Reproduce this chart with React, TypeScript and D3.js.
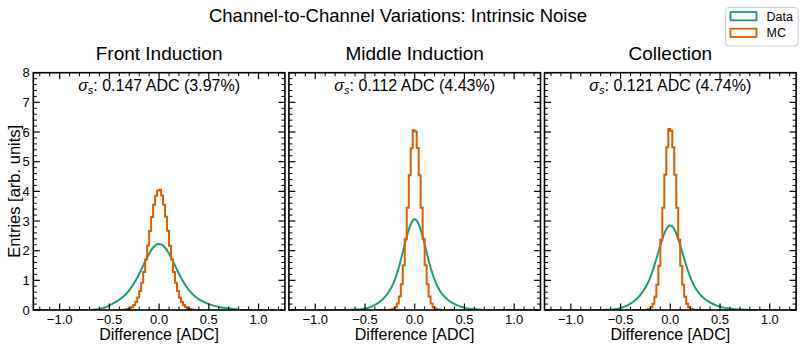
import React from "react";
import * as d3 from "d3";

// ---------- data ----------
const panelTitles = ["Front Induction", "Middle Induction", "Collection"];
const sigmaValues = ["0.147", "0.112", "0.121"];
const sigmaPercents = ["3.97", "4.43", "4.74"];
const seriesNames = ["Data", "MC"];
const binWidth = 0.02;
const dataStart = -0.7;
const mcStart = -0.4;

const frontData = [
  0.005, 0.008, 0.013, 0.02, 0.03, 0.043, 0.06, 0.08, 0.105, 0.135,
  0.17, 0.205, 0.245, 0.285, 0.325, 0.37, 0.42, 0.48, 0.548, 0.627,
  0.715, 0.81, 0.915, 1.031, 1.157, 1.29, 1.429, 1.569, 1.707, 1.838,
  1.958, 2.06, 2.141, 2.198, 2.226,
  2.22, 2.198, 2.141, 2.06, 1.958, 1.838, 1.707, 1.569, 1.429, 1.29,
  1.157, 1.031, 0.915, 0.81, 0.715, 0.631, 0.557, 0.492, 0.436, 0.386,
  0.343, 0.305, 0.271, 0.241, 0.214, 0.19, 0.168, 0.148, 0.13, 0.114,
  0.099, 0.087, 0.075, 0.065, 0.056, 0.048, 0.041, 0.035, 0.029, 0.025,
];
const frontMC = [
  0.001, 0.003, 0.008, 0.016, 0.03, 0.055, 0.098, 0.166, 0.271, 0.425,
  0.639, 0.922, 1.279, 1.701, 2.174, 2.666, 3.139, 3.547, 3.849, 4.03,
  4.05, 3.86, 3.55, 3.14, 2.67, 2.17, 1.7, 1.28, 0.92, 0.64,
  0.425, 0.27, 0.166, 0.098, 0.055, 0.03, 0.016, 0.008, 0.003, 0.001,
];
const middleData = [
  0.001, 0.002, 0.003, 0.005, 0.007, 0.011, 0.016, 0.022, 0.031, 0.042,
  0.056, 0.074, 0.096, 0.122, 0.153, 0.19, 0.232, 0.28, 0.335, 0.4,
  0.485, 0.568, 0.668, 0.79, 0.937, 1.112, 1.318, 1.553, 1.811, 2.082,
  2.351, 2.6, 2.809, 2.96, 3.06,
  3.05, 2.96, 2.809, 2.6, 2.351, 2.082, 1.811, 1.553, 1.318, 1.112,
  0.937, 0.79, 0.668, 0.568, 0.485, 0.415, 0.355, 0.304, 0.259, 0.22,
  0.185, 0.156, 0.13, 0.107, 0.088, 0.072, 0.058, 0.046, 0.037, 0.029,
  0.023, 0.017, 0.013, 0.01, 0.008, 0.006, 0.004, 0.003, 0.002, 0.002,
];
const middleMC = [
  0, 0, 0, 0, 0, 0.001, 0.002, 0.005, 0.014, 0.038,
  0.096, 0.219, 0.457, 0.869, 1.509, 2.387, 3.447, 4.541, 5.456, 6.06,
  6.02, 5.46, 4.54, 3.45, 2.39, 1.51, 0.87, 0.457, 0.219, 0.096,
  0.038, 0.014, 0.005, 0.002, 0.001, 0, 0, 0, 0, 0,
];
const collectionData = [
  0.002, 0.003, 0.005, 0.008, 0.012, 0.017, 0.024, 0.033, 0.044, 0.059,
  0.077, 0.099, 0.126, 0.158, 0.195, 0.237, 0.285, 0.34, 0.4, 0.47,
  0.559, 0.649, 0.755, 0.882, 1.031, 1.204, 1.398, 1.613, 1.84, 2.071,
  2.294, 2.496, 2.662, 2.78, 2.85,
  2.84, 2.78, 2.662, 2.496, 2.294, 2.071, 1.84, 1.613, 1.398, 1.204,
  1.031, 0.882, 0.755, 0.649, 0.559, 0.483, 0.419, 0.363, 0.315, 0.273,
  0.236, 0.203, 0.173, 0.147, 0.124, 0.105, 0.087, 0.072, 0.06, 0.049,
  0.04, 0.032, 0.026, 0.02, 0.016, 0.013, 0.01, 0.008, 0.006, 0.004,
];
const collectionMC = [
  0, 0, 0, 0, 0, 0.001, 0.001, 0.004, 0.013, 0.036,
  0.091, 0.21, 0.443, 0.851, 1.49, 2.37, 3.45, 4.56, 5.49, 6.1,
  6.04, 5.49, 4.56, 3.45, 2.37, 1.49, 0.851, 0.443, 0.21, 0.091,
  0.036, 0.013, 0.004, 0.001, 0.001, 0, 0, 0, 0, 0,
];
const dataSeries = [frontData, middleData, collectionData];
const mcSeries = [frontMC, middleMC, collectionMC];

// ---------- layout ----------
const W = 805;
const H = 349;
const PANEL_LEFT = 33.3;
const PANEL_W = 251.6;
const PANEL_GAP = 4;
const TOP = 72.7;
const BOTTOM = 310;
const X_DOMAIN: [number, number] = [-1.265, 1.265];
const Y_DOMAIN: [number, number] = [0, 8];
const COLORS = ["#1b9e77", "#d95f02"];
const FONT = "'Liberation Sans', Arial, Helvetica, sans-serif";
const MAJOR = 6.5;
const MINOR = 3.5;

function stepPoints(values: number[], start: number): [number, number][] {
  const pts: [number, number][] = [[start, 0]];
  values.forEach((v, i) => {
    pts.push([start + i * binWidth, v]);
    pts.push([start + (i + 1) * binWidth, v]);
  });
  pts.push([start + values.length * binWidth, 0]);
  return pts;
}

function centerPoints(values: number[], start: number): [number, number][] {
  const pts: [number, number][] = [[-1.3, 0], [start, 0]];
  values.forEach((v, i) => {
    pts.push([start + (i + 0.5) * binWidth, v]);
  });
  pts.push([start + values.length * binWidth, 0]);
  pts.push([1.3, 0]);
  return pts;
}

function Panel({ index }: { index: number }) {
  const x0 = PANEL_LEFT + index * (PANEL_W + PANEL_GAP);
  const x1 = x0 + PANEL_W;
  const xs = d3.scaleLinear().domain(X_DOMAIN).range([x0, x1]);
  const ys = d3.scaleLinear().domain(Y_DOMAIN).range([BOTTOM, TOP]);
  const line = d3
    .line<[number, number]>()
    .x((d) => xs(d[0]))
    .y((d) => ys(d[1]));
  const xMajor = xs.ticks(5);
  const xMinor = d3
    .range(-12, 13)
    .map((i) => i / 10)
    .filter((v) => !xMajor.some((m) => Math.abs(m - v) < 1e-9));
  const yMajor = d3.range(0, 9);
  const yMinor = d3
    .range(0, 41)
    .map((i) => i / 5)
    .filter((v) => Math.abs(v - Math.round(v)) > 1e-9);
  const fmt = d3.format(".1f");
  const clipId = `clip-${index}`;
  const cx = (x0 + x1) / 2;
  return (
    <g>
      <defs>
        <clipPath id={clipId}>
          <rect x={x0} y={TOP} width={PANEL_W} height={BOTTOM - TOP} />
        </clipPath>
      </defs>
      <g clipPath={`url(#${clipId})`}>
        <path
          d={line(centerPoints(dataSeries[index], dataStart)) || ""}
          fill="none"
          stroke={COLORS[0]}
          strokeWidth={2}
          strokeLinejoin="round"
        />
        <path
          d={line(stepPoints(mcSeries[index], mcStart)) || ""}
          fill="none"
          stroke={COLORS[1]}
          strokeWidth={2}
        />
      </g>
      {/* ticks */}
      <g stroke="#000">
        {xMajor.map((v) => (
          <g key={`xM${v}`}>
            <line x1={xs(v)} x2={xs(v)} y1={BOTTOM} y2={BOTTOM - MAJOR} strokeWidth={1.2} />
            <line x1={xs(v)} x2={xs(v)} y1={TOP} y2={TOP + MAJOR} strokeWidth={1.2} />
          </g>
        ))}
        {xMinor.map((v) => (
          <g key={`xm${v}`}>
            <line x1={xs(v)} x2={xs(v)} y1={BOTTOM} y2={BOTTOM - MINOR} strokeWidth={1} />
            <line x1={xs(v)} x2={xs(v)} y1={TOP} y2={TOP + MINOR} strokeWidth={1} />
          </g>
        ))}
        {yMajor.map((v) => (
          <g key={`yM${v}`}>
            <line x1={x0} x2={x0 + MAJOR} y1={ys(v)} y2={ys(v)} strokeWidth={1.2} />
            <line x1={x1} x2={x1 - MAJOR} y1={ys(v)} y2={ys(v)} strokeWidth={1.2} />
          </g>
        ))}
        {yMinor.map((v) => (
          <g key={`ym${v}`}>
            <line x1={x0} x2={x0 + MINOR} y1={ys(v)} y2={ys(v)} strokeWidth={1} />
            <line x1={x1} x2={x1 - MINOR} y1={ys(v)} y2={ys(v)} strokeWidth={1} />
          </g>
        ))}
      </g>
      <rect
        x={x0}
        y={TOP}
        width={PANEL_W}
        height={BOTTOM - TOP}
        fill="none"
        stroke="#000"
        strokeWidth={1.6}
      />
      {/* tick labels */}
      {xMajor.map((v) => (
        <text
          key={`xl${v}`}
          x={xs(v)}
          y={323.5}
          textAnchor="middle"
          fontSize={13}
          fontFamily={FONT}
        >
          {fmt(v)}
        </text>
      ))}
      {index === 0 &&
        yMajor.map((v) => (
          <text
            key={`yl${v}`}
            x={x0 - 3.5}
            y={ys(v) + 4.6}
            textAnchor="end"
            fontSize={13}
            fontFamily={FONT}
          >
            {v}
          </text>
        ))}
      <text x={cx} y={340} textAnchor="middle" fontSize={16} fontFamily={FONT}>
        Difference [ADC]
      </text>
      <text x={cx} y={60} textAnchor="middle" fontSize={19} fontFamily={FONT}>
        {panelTitles[index]}
      </text>
      <text x={cx} y={90.5} textAnchor="middle" fontSize={16} fontFamily={FONT}>
        <tspan fontStyle="italic">σ</tspan>
        <tspan fontStyle="italic" fontSize={11} dy={3}>
          s
        </tspan>
        <tspan dy={-3}>{`: ${sigmaValues[index]} ADC (${sigmaPercents[index]}%)`}</tspan>
      </text>
    </g>
  );
}

export default function App() {
  return (
    <svg
      width={W}
      height={H}
      viewBox={`0 0 ${W} ${H}`}
      style={{ position: "absolute", left: 0, top: 0, background: "#fff" }}
    >
      <rect x={0} y={0} width={W} height={H} fill="#fff" />
      <text x={398} y={22} textAnchor="middle" fontSize={18.5} fontFamily={FONT}>
        Channel-to-Channel Variations: Intrinsic Noise
      </text>
      {[0, 1, 2].map((i) => (
        <Panel key={i} index={i} />
      ))}
      <text
        transform={`translate(19.5,${(TOP + BOTTOM) / 2}) rotate(-90)`}
        textAnchor="middle"
        fontSize={16.5}
        fontFamily={FONT}
      >
        Entries [arb. units]
      </text>
      {/* legend */}
      <g>
        <rect x={725.7} y={7.5} width={72.5} height={38.5} rx={3} fill="#fff" fillOpacity={0.8} stroke="#ccc" strokeWidth={1} />
        {seriesNames.map((name, i) => (
          <g key={name}>
            <rect
              x={730.5}
              y={12 + i * 16.7}
              width={26}
              height={8.3}
              fill="none"
              stroke={COLORS[i]}
              strokeWidth={1.8}
            />
            <text x={766.5} y={20.5 + i * 16.7} fontSize={12.5} fontFamily={FONT}>
              {name}
            </text>
          </g>
        ))}
      </g>
    </svg>
  );
}
